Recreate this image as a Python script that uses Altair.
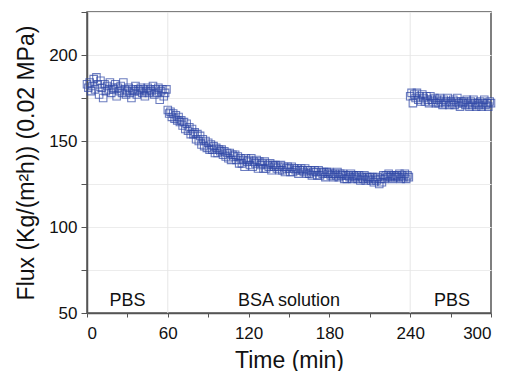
import altair as alt
import pandas as pd

# Phase 1: PBS, t = 0..59 min
seg1_t = list(range(0, 60))
seg1_y = [183,181,184,179,182,186,180,187,183,177,185,181,175,183,179,182,180,184,178,181,
          180,183,176,181,179,182,178,184,180,177,179,181,178,175,180,179,182,177,180,179,
          181,178,180,176,179,181,178,180,179,182,177,180,178,181,174,179,180,176,178,180]
# Phase 2: BSA solution, t = 60..239 min
seg2_t = list(range(60, 240))
seg2_y = [168,166,167,164,166,163,165,162,164,161,
          162,159,161,157,160,156,158,154,157,154,
          155,151,154,150,153,148,151,147,150,146,
          149,145,148,145,147,143,146,143,145,144,
          145,142,144,141,143,140,143,139,142,141,
          142,139,141,137,140,137,139,135,140,138,
          139,136,140,135,138,137,139,134,138,136,
          137,134,138,134,136,135,137,133,136,135,
          136,134,135,133,136,133,135,132,134,135,
          134,132,135,132,134,133,134,131,133,134,
          133,132,134,131,133,131,133,130,132,133,
          132,130,133,130,132,131,132,129,132,131,
          132,130,131,129,131,130,132,129,131,130,
          131,128,130,128,130,129,131,128,130,129,
          130,128,130,127,129,128,130,127,129,128,
          129,127,129,126,128,127,129,125,128,126,
          130,128,130,129,131,129,130,128,130,129,
          130,129,131,128,130,129,131,128,130,129]
# Phase 3: PBS, t = 240..300 min
seg3_t = list(range(240, 301))
seg3_y = [176,178,172,177,175,178,174,176,173,177,
          175,173,176,174,172,176,174,173,175,172,
          174,172,175,173,171,174,172,173,175,171,
          173,172,174,171,173,175,172,170,173,172,
          173,171,174,172,170,173,171,174,172,170,
          172,171,173,170,172,174,171,172,170,173,
          172]

label_text = ["PBS", "BSA solution", "PBS"]
label_x = [30, 150, 271]
label_y = [57, 57, 57]

phase_bounds = [60, 240]

x_ticks = [0, 30, 60, 90, 120, 150, 180, 210, 240, 270, 300]
y_ticks = [50, 75, 100, 125, 150, 175, 200, 225]

df = pd.DataFrame({"t": seg1_t + seg2_t + seg3_t, "flux": seg1_y + seg2_y + seg3_y})
lab = pd.DataFrame({"text": label_text, "x": label_x, "y": label_y})
bounds = pd.DataFrame({"x": phase_bounds})

font = "Liberation Sans"

xs = alt.Scale(domain=[0, 300], nice=False, zero=False)
ys = alt.Scale(domain=[50, 225], nice=False, zero=False)

vlines = alt.Chart(bounds).mark_rule(color="#e6e6e6", strokeWidth=1).encode(
    x=alt.X("x:Q", scale=xs)
)

pts = alt.Chart(df).mark_point(
    shape="square", filled=False, size=56, strokeWidth=1.1, color="#2f47a6", opacity=0.7
).encode(
    x=alt.X("t:Q", scale=xs, title="Time (min)",
            axis=alt.Axis(values=x_ticks, grid=False, tickSize=4,
                          labelExpr="datum.value % 60 == 0 ? datum.label : ''",
                          labelFontSize=17, labelFont=font, labelColor="#111",
                          titleFontSize=23, titleFont=font, titleFontWeight="normal",
                          titleColor="#111", titlePadding=8, domainColor="#555",
                          domainWidth=1.5, tickColor="#555", labelPadding=8)),
    y=alt.Y("flux:Q", scale=ys, title="Flux (Kg/(m²h)) (0.02 MPa)",
            axis=alt.Axis(values=y_ticks, grid=True, gridColor="#ececec", tickSize=6,
                          labelExpr="datum.value % 50 == 0 && datum.value < 225 ? datum.label : ''",
                          labelFontSize=17, labelFont=font, labelColor="#111",
                          titleFontSize=23, titleFont=font, titleFontWeight="normal",
                          titleColor="#111", titlePadding=10, domainColor="#555",
                          domainWidth=1.5, tickColor="#555", labelPadding=4)),
)

txt = alt.Chart(lab).mark_text(fontSize=18, font=font, color="#111").encode(
    x=alt.X("x:Q", scale=xs), y=alt.Y("y:Q", scale=ys), text="text:N"
)

chart = alt.layer(vlines, pts, txt).properties(
    width=404, height=301, autosize=alt.AutoSizeParams(type="none"),
    padding={"left": 79, "top": 4, "right": 10, "bottom": 58}
).configure_view(stroke="#555", strokeWidth=1.5)

chart.save("out.html", embed_options={"renderer": "svg", "actions": False})
